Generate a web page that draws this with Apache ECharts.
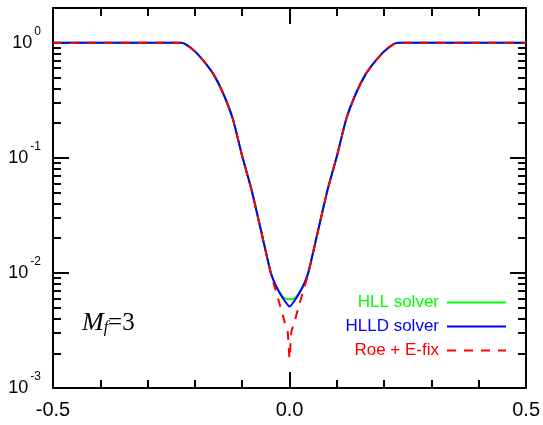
<!DOCTYPE html>
<html>
<head>
<meta charset="utf-8">
<script src="https://cdn.jsdelivr.net/npm/echarts@6/dist/echarts.min.js"></script>
<style>
  html, body { margin: 0; padding: 0; background: #fff; }
  #chart { width: 543px; height: 425px; }
</style>
</head>
<body>
<div id="chart"></div>
<script>
// x positions and values
const xHLL = [-0.5, -0.23, -0.22, -0.20, -0.18, -0.16, -0.14, -0.12, -0.10, -0.08, -0.06, -0.04, -0.03, -0.02, -0.01, 0, 0.01, 0.02, 0.03, 0.04, 0.06, 0.08, 0.10, 0.12, 0.14, 0.16, 0.18, 0.20, 0.22, 0.23, 0.5]
const yHLL = [1, 1, 0.97, 0.84, 0.68, 0.525, 0.36, 0.218, 0.103, 0.052, 0.023, 0.0102, 0.0079, 0.0067, 0.006, 0.0059, 0.006, 0.0067, 0.0079, 0.0102, 0.023, 0.052, 0.103, 0.218, 0.36, 0.525, 0.68, 0.84, 0.97, 1, 1]

const xHLLD = [-0.5, -0.23, -0.22, -0.20, -0.18, -0.16, -0.14, -0.12, -0.10, -0.08, -0.06, -0.04, -0.03, -0.02, -0.01, 0, 0.01, 0.02, 0.03, 0.04, 0.06, 0.08, 0.10, 0.12, 0.14, 0.16, 0.18, 0.20, 0.22, 0.23, 0.5]
const yHLLD = [1, 1, 0.97, 0.84, 0.68, 0.525, 0.36, 0.218, 0.103, 0.052, 0.023, 0.0102, 0.0079, 0.0066, 0.0057, 0.0051, 0.0057, 0.0066, 0.0079, 0.0102, 0.023, 0.052, 0.103, 0.218, 0.36, 0.525, 0.68, 0.84, 0.97, 1, 1]

const xRoe = [-0.5, -0.23, -0.22, -0.20, -0.18, -0.16, -0.14, -0.12, -0.10, -0.08, -0.06, -0.04, -0.03, -0.02, -0.01, -0.004, 0, 0.004, 0.01, 0.02, 0.03, 0.04, 0.06, 0.08, 0.10, 0.12, 0.14, 0.16, 0.18, 0.20, 0.22, 0.23, 0.5]
const yRoe = [1, 1, 0.97, 0.84, 0.68, 0.525, 0.36, 0.218, 0.103, 0.052, 0.023, 0.01, 0.0072, 0.0052, 0.0037, 0.0031, 0.0018, 0.0031, 0.0037, 0.0052, 0.0072, 0.01, 0.023, 0.052, 0.103, 0.218, 0.36, 0.525, 0.68, 0.84, 0.97, 1, 1]

const xTickLabels = [-0.5, 0, 0.5]

const pairs = (xs, ys) => xs.map((x, i) => [x, ys[i]])

const chart = echarts.init(document.getElementById('chart'))

const axisLine = { onZero: false, lineStyle: { color: '#000', width: 2 } }
const tick = { inside: true, length: 16, lineStyle: { color: '#000', width: 2 } }

const option = {
  animation: false,
  grid: { left: 53, right: 16, top: 8, bottom: 37 },
  xAxis: [
    {
      type: 'value', min: -0.5, max: 0.5, interval: 0.5,
      axisLine: axisLine,
      axisTick: tick,
      minorTick: { show: true, splitNumber: 5, length: 8, lineStyle: { color: '#000', width: 2 } },
      splitLine: { show: false },
      axisLabel: {
        margin: 12, fontSize: 20, color: '#000', fontFamily: 'Liberation Sans',
        formatter: (v) => (xTickLabels.includes(v) ? v.toFixed(1) : '')
      }
    },
    {
      type: 'value', position: 'top', min: -0.5, max: 0.5, interval: 0.5,
      axisLine: axisLine,
      axisTick: tick,
      minorTick: { show: true, splitNumber: 5, length: 8, lineStyle: { color: '#000', width: 2 } },
      splitLine: { show: false },
      axisLabel: { show: false }
    }
  ],
  yAxis: [
    {
      type: 'log', min: 0.001, max: 2, logBase: 10,
      axisLine: axisLine,
      axisTick: tick,
      minorTick: { show: true, splitNumber: 9, length: 8, lineStyle: { color: '#000', width: 2 } },
      splitLine: { show: false },
      axisLabel: {
        margin: 12,
        formatter: (v) => {
          const e = Math.log10(v)
          if (Math.abs(e - Math.round(e)) > 1e-6) return ''
          return '{b|10}{s|' + Math.round(e) + '}'
        },
        rich: {
          b: { fontSize: 18, lineHeight: 34, color: '#000', fontFamily: 'Liberation Sans' },
          s: { fontSize: 12, lineHeight: 12, verticalAlign: 'top', color: '#000', fontFamily: 'Liberation Sans', padding: [0, 0, 0, 2] }
        }
      }
    },
    {
      type: 'log', min: 0.001, max: 2, logBase: 10, position: 'right',
      axisLine: axisLine,
      axisTick: tick,
      minorTick: { show: true, splitNumber: 9, length: 8, lineStyle: { color: '#000', width: 2 } },
      splitLine: { show: false },
      axisLabel: { show: false }
    }
  ],
  legend: {
    orient: 'vertical',
    align: 'right',
    right: 36,
    top: 294,
    padding: 0,
    itemWidth: 59,
    itemHeight: 14,
    itemGap: 7,
    itemStyle: { opacity: 0 },
    textStyle: { fontSize: 17, fontFamily: 'Liberation Sans', padding: [0, 3, 0, 0] },
    data: [
      { name: 'HLL solver', textStyle: { color: '#00ff00' } },
      { name: 'HLLD solver', textStyle: { color: '#0000ff' } },
      { name: 'Roe + E-fix', textStyle: { color: '#ff0000' } }
    ]
  },
  graphic: [
    {
      type: 'text', left: 82, top: 310,
      style: {
        text: '{m|M}{f|f}{e|=3}',
        rich: {
          m: { fontSize: 26, fontStyle: 'italic', fontFamily: 'Liberation Serif', fill: '#000', lineHeight: 30, verticalAlign: 'bottom' },
          f: { fontSize: 16, fontStyle: 'italic', fontFamily: 'Liberation Serif', fill: '#000', lineHeight: 22, verticalAlign: 'bottom' },
          e: { fontSize: 25, fontFamily: 'Liberation Serif', fill: '#000', lineHeight: 30, verticalAlign: 'bottom' }
        }
      }
    }
  ],
  series: [
    {
      name: 'HLL solver', type: 'line', symbol: 'none', smooth: 0.2,
      lineStyle: { color: '#00ff00', width: 2 }, itemStyle: { color: '#00ff00' },
      data: pairs(xHLL, yHLL)
    },
    {
      name: 'HLLD solver', type: 'line', symbol: 'none', smooth: 0.2,
      lineStyle: { color: '#0000ff', width: 2 }, itemStyle: { color: '#0000ff' },
      data: pairs(xHLLD, yHLLD)
    },
    {
      name: 'Roe + E-fix', type: 'line', symbol: 'none', smooth: 0.2,
      lineStyle: { color: '#ff0000', width: 2, type: [9, 8] }, itemStyle: { color: '#ff0000' },
      data: pairs(xRoe, yRoe)
    }
  ]
}

chart.setOption(option)
</script>
</body>
</html>
